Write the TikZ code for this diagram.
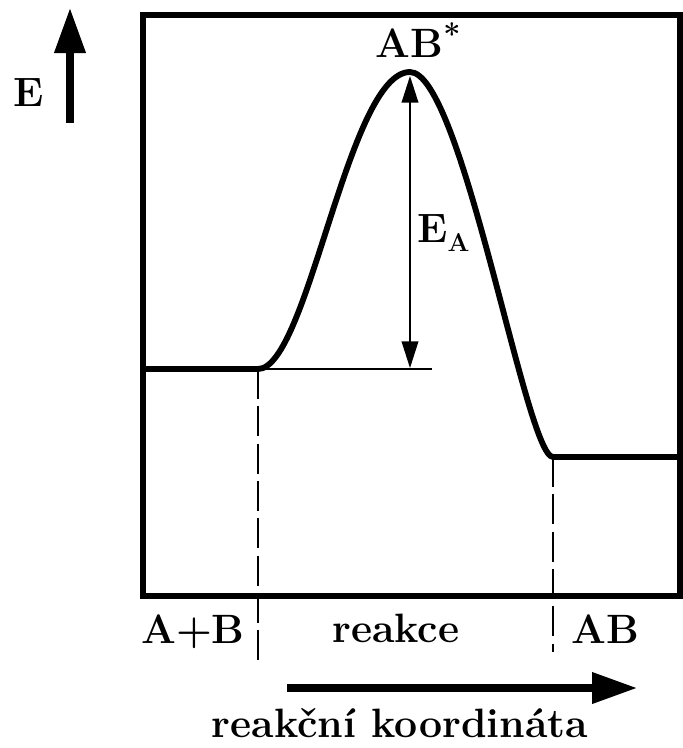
\documentclass[tikz,border=0pt]{standalone}
\usepackage{fontspec}
\usetikzlibrary{arrows.meta}
\begin{document}
\begin{tikzpicture}[x=0.03cm, y=-0.03cm,
    every node/.style={font=\fontsize{35}{42}\selectfont\bfseries, inner sep=0pt},
    thickline/.style={line width=5pt},
    thinline/.style={line width=1.4pt},
    guide/.style={line width=1.4pt, dash pattern=on 0.9cm off 0.22cm},
    axisarrow/.style={line width=6pt, -{Triangle[length=1.35cm, width=0.9cm]}}]
    \useasboundingbox (0,0) rectangle (683,748);
    \draw[thickline] (143,15) rectangle (680,596);
    \coordinate (startL) at (143,369);
    \coordinate (lowL)   at (258,369);
    \coordinate (peak)   at (410,72);
    \coordinate (lowR)   at (553,457);
    \coordinate (endR)   at (680,457);
    \draw[thickline, line join=round] (startL) -- (lowL)
        .. controls (308,369) and (348,72) .. (peak)
        .. controls (462,72) and (526,457) .. (lowR) -- (endR);
    \coordinate (baseEnd) at (432,369);
    \draw[thinline] (lowL) -- (baseEnd);
    \coordinate (eaTop) at (410,76);
    \coordinate (eaBot) at (410,368);
    \draw[thinline, {Triangle[length=0.8cm, width=0.5cm]}-{Triangle[length=0.8cm, width=0.5cm]}] (eaTop) -- (eaBot);
    \coordinate (dashL) at (258,660);
    \coordinate (dashR) at (553,652);
    \draw[guide] (lowL) -- (dashL);
    \draw[guide] (lowR) -- (dashR);
    \coordinate (eTail) at (70,123);
    \coordinate (eTip)  at (70,8);
    \draw[axisarrow] (eTail) -- (eTip);
    \coordinate (xTail) at (287,688);
    \coordinate (xTip)  at (637,688);
    \draw[axisarrow] (xTail) -- (xTip);
    \node[anchor=base] (E)      at (29,106)  {E};
    \node[anchor=base] (TS)     at (418,57)  {AB\raisebox{10pt}{\fontsize{26}{26}\selectfont *}};
    \node[anchor=base west] (EA) at (417,242) {E\raisebox{-8pt}{\fontsize{22}{22}\selectfont A}};
    \node[anchor=base] (AplusB) at (193,643) {A+B};
    \node[anchor=base] (react)  at (396,642) {reakce};
    \node[anchor=base] (prod)   at (605,643) {AB};
    \node[anchor=base] (xlabel) at (400,737) {reakční koordináta};
\end{tikzpicture}
\end{document}
